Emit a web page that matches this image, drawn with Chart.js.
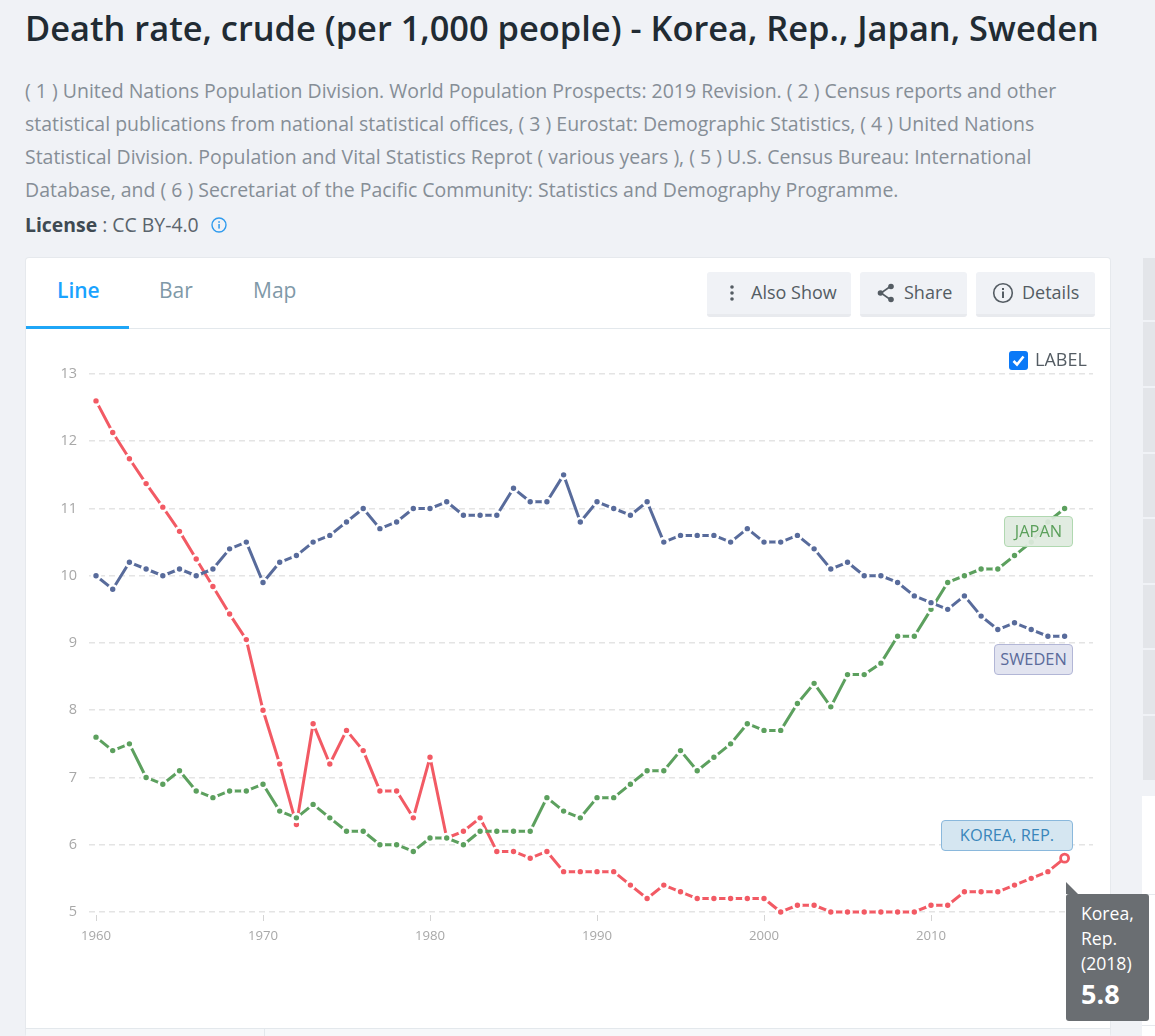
<!DOCTYPE html>
<html>
<head>
<meta charset="utf-8">
<title>Death rate, crude</title>
<script src="https://cdn.jsdelivr.net/npm/chart.js@4"></script>
<style>
  html, body { margin: 0; padding: 0; }
  body { width: 1155px; height: 1036px; overflow: hidden; position: relative; background: #f0f2f6; font-family: "Open Sans", sans-serif; color: #3f4a52; }
  .abs { position: absolute; white-space: nowrap; }
  #title { left: 25px; top: 5px; font-size: 34.4px; line-height: 46px; font-weight: 600; color: #212b33; }
  #desc { left: 25px; top: 73.5px; width: 1060px; white-space: normal; font-size: 19.48px; line-height: 33.2px; color: #868e96; }
  #license { left: 25px; top: 211px; font-size: 19.4px; line-height: 28px; color: #5a646c; }
  #license b { color: #3f4a52; font-weight: 700; }
  #license svg { vertical-align: -1px; margin-left: 7px; }
  #card { left: 26px; top: 258px; width: 1084px; height: 778px; background: #fff; border-radius: 3px; box-shadow: 0 0 0 1px #e6e9ed; }
  #tabline { left: 26px; top: 328px; width: 1084px; height: 1px; background: #e3e8ec; }
  #tabon { left: 26px; top: 326px; width: 103px; height: 3px; background: #1fa6f7; }
  .tab { top: 276px; font-size: 21px; line-height: 28px; color: #7f99a8; font-weight: 500; }
  .btn { top: 272px; height: 42px; background: #f0f2f6; border-bottom: 3px solid #e8eaee; border-radius: 3px; font-size: 18px; line-height: 41px; color: #545c63; box-sizing: content-box; }
  .btn svg { position: absolute; top: 10px; }
  .btn span { position: absolute; top: 0; }
  #chk { left: 1009px; top: 351px; width: 19px; height: 19px; background: #0b79f7; border-radius: 3px; }
  #chklabel { left: 1035px; top: 345px; font-size: 18px; line-height: 28px; color: #545c63; }
  #wrap { left: 26px; top: 329px; width: 1084px; height: 699px; }
  .tag { box-sizing: border-box; height: 31px; border-radius: 4px; border: 1.5px solid; font-size: 16.4px; line-height: 28px; text-align: center; }
  #tagJapan { left: 1004px; top: 516px; width: 69px; background: rgba(222,234,222,.92); border-color: #b0d8b0; color: #5ba05b; }
  #tagSweden { left: 994px; top: 644px; width: 79px; background: #e2e4f0; border-color: #b2b6d6; color: #5b6b9b; }
  #tagKorea { left: 941px; top: 820px; width: 132px; background: #d5e6f1; border-color: #8ab8dc; color: #3a86bb; }
  #footer { left: 26px; top: 1028px; width: 1084px; height: 8px; background: #f6f8fa; border-top: 1px solid #e3e8ec; }
  #footsep { left: 264px; top: 1029px; width: 1px; height: 7px; background: #e3e8ec; }
  #side { left: 1143px; top: 258px; width: 12px; height: 522px; background: #e3e5e9; }
  .sideline { left: 1143px; width: 12px; height: 2px; background: #f0f2f6; }
  #sidecard { left: 1142px; top: 796px; width: 13px; height: 240px; background: #fff; }
  #sidecardline { left: 1142px; top: 894px; width: 13px; height: 1px; background: #e6e9ed; }
  #sidecardline2 { left: 1142px; top: 1025px; width: 13px; height: 1px; background: #e6e9ed; }
  #tip { left: 1066px; top: 894px; width: 83px; height: 127px; background: #6a6e72; border-radius: 3px; color: #fff; box-sizing: border-box; padding: 7px 0 0 15px; font-size: 17.6px; line-height: 25px; white-space: normal; }
  #tip b { display: block; font-size: 27px; line-height: 35px; font-weight: 700; }
  #tiparrow { left: 1066px; top: 882px; width: 0; height: 0; border-top: 12px solid transparent; border-left: 12px solid #6a6e72; }
</style>
</head>
<body>
<div class="abs" id="title">Death rate, crude (per 1,000 people) - Korea, Rep., Japan, Sweden</div>
<div class="abs" id="desc">( 1 ) United Nations Population Division. World Population Prospects: 2019 Revision. ( 2 ) Census reports and other statistical publications from national statistical offices, ( 3 ) Eurostat: Demographic Statistics, ( 4 ) United Nations Statistical Division. Population and Vital Statistics Reprot ( various years ), ( 5 ) U.S. Census Bureau: International Database, and ( 6 ) Secretariat of the Pacific Community: Statistics and Demography Programme.</div>
<div class="abs" id="license"><b>License</b> : CC BY-4.0 <svg width="16" height="16" viewBox="0 0 16 16"><circle cx="8" cy="8" r="7" fill="none" stroke="#2f9bee" stroke-width="1.4"/><rect x="7.3" y="7" width="1.5" height="4.6" fill="#2f9bee"/><rect x="7.3" y="4.2" width="1.5" height="1.6" fill="#2f9bee"/></svg></div>

<div class="abs" id="side"></div>
<div class="abs sideline" style="top:320px"></div>
<div class="abs sideline" style="top:386px"></div>
<div class="abs sideline" style="top:452px"></div>
<div class="abs sideline" style="top:517px"></div>
<div class="abs sideline" style="top:583px"></div>
<div class="abs sideline" style="top:648px"></div>
<div class="abs sideline" style="top:714px"></div>
<div class="abs" id="sidecard"></div>
<div class="abs" id="sidecardline"></div>
<div class="abs" id="sidecardline2"></div>

<div class="abs" id="card"></div>
<div class="abs" id="tabline"></div>
<div class="abs" id="tabon"></div>
<div class="abs tab" style="left:57px;color:#1aa3ff;font-weight:600">Line</div>
<div class="abs tab" style="left:159px">Bar</div>
<div class="abs tab" style="left:253px">Map</div>

<div class="abs btn" style="left:707px;width:144px">
  <svg style="left:21px" width="8" height="22" viewBox="0 0 8 22"><circle cx="4" cy="5" r="1.8" fill="#545c63"/><circle cx="4" cy="11" r="1.8" fill="#545c63"/><circle cx="4" cy="17" r="1.8" fill="#545c63"/></svg>
  <span style="left:44px">Also Show</span>
</div>
<div class="abs btn" style="left:860px;width:107px">
  <svg style="left:16px" width="20" height="22" viewBox="0 0 20 22"><path d="M15 4 L5 11 L15 18" fill="none" stroke="#545c63" stroke-width="1.6"/><circle cx="15" cy="4.500" r="2.800" fill="#545c63"/><circle cx="4.500" cy="11" r="2.800" fill="#545c63"/><circle cx="15" cy="17.500" r="2.800" fill="#545c63"/></svg>
  <span style="left:44px">Share</span>
</div>
<div class="abs btn" style="left:976px;width:119px">
  <svg style="left:16px" width="22" height="22" viewBox="0 0 22 22"><circle cx="11" cy="11" r="9.300" fill="none" stroke="#545c63" stroke-width="1.600"/><rect x="10" y="9.500" width="2" height="6.500" fill="#545c63"/><rect x="10" y="6" width="2" height="2" fill="#545c63"/></svg>
  <span style="left:46px">Details</span>
</div>

<div class="abs" id="wrap"><canvas id="chart"></canvas></div>

<div class="abs" id="chk"><svg width="19" height="19" viewBox="0 0 19 19"><path d="M4.500 10 L8 13.500 L14.500 5.500" fill="none" stroke="#fff" stroke-width="2.600"/></svg></div>
<div class="abs" id="chklabel">LABEL</div>

<div class="abs tag" id="tagJapan">JAPAN</div>
<div class="abs tag" id="tagSweden">SWEDEN</div>
<div class="abs tag" id="tagKorea">KOREA, REP.</div>

<div class="abs" id="tiparrow"></div>
<div class="abs" id="tip">Korea, Rep. (2018)<b>5.8</b></div>

<div class="abs" id="footer"></div>
<div class="abs" id="footsep"></div>

<script>
const years = []
for (let y = 1960; y <= 2018; y++) years.push(y)

const xTicks = [1960, 1970, 1980, 1990, 2000, 2010]
const yTicks = [5, 6, 7, 8, 9, 10, 11, 12, 13]

const korea = [12.6, 12.13, 11.74, 11.37, 11.02, 10.66, 10.25, 9.84, 9.43, 9.05,
  8.0, 7.2, 6.3, 7.8, 7.2, 7.7, 7.4, 6.8, 6.8, 6.4,
  7.3, 6.1, 6.2, 6.4, 5.9, 5.9, 5.8, 5.9, 5.6, 5.6,
  5.6, 5.6, 5.4, 5.2, 5.4, 5.3, 5.2, 5.2, 5.2, 5.2,
  5.2, 5.0, 5.1, 5.1, 5.0, 5.0, 5.0, 5.0, 5.0, 5.0,
  5.1, 5.1, 5.3, 5.3, 5.3, 5.4, 5.5, 5.6, 5.8]

const japan = [7.6, 7.4, 7.5, 7.0, 6.9, 7.1, 6.8, 6.7, 6.8, 6.8,
  6.9, 6.5, 6.4, 6.6, 6.4, 6.2, 6.2, 6.0, 6.0, 5.9,
  6.1, 6.1, 6.0, 6.2, 6.2, 6.2, 6.2, 6.7, 6.5, 6.4,
  6.7, 6.7, 6.9, 7.1, 7.1, 7.4, 7.1, 7.3, 7.5, 7.8,
  7.7, 7.7, 8.1, 8.4, 8.05, 8.53, 8.53, 8.7, 9.1, 9.1,
  9.5, 9.9, 10.0, 10.1, 10.1, 10.3, 10.5, 10.8, 11.0]

const sweden = [10.0, 9.8, 10.2, 10.1, 10.0, 10.1, 10.0, 10.1, 10.4, 10.5,
  9.9, 10.2, 10.3, 10.5, 10.6, 10.8, 11.0, 10.7, 10.8, 11.0,
  11.0, 11.1, 10.9, 10.9, 10.9, 11.3, 11.1, 11.1, 11.5, 10.8,
  11.1, 11.0, 10.9, 11.1, 10.5, 10.6, 10.6, 10.6, 10.5, 10.7,
  10.5, 10.5, 10.6, 10.4, 10.1, 10.2, 10.0, 10.0, 9.9, 9.7,
  9.6, 9.5, 9.7, 9.4, 9.2, 9.3, 9.2, 9.1, 9.1]

const makeSet = (label, values, color) => ({
  label: label,
  data: values.map((v, i) => ({ x: years[i], y: v })),
  borderColor: color,
  backgroundColor: color,
  borderWidth: 3,
  borderJoinStyle: "round",
  pointRadius: 4,
  pointBorderWidth: 2.6,
  pointBorderColor: "#fff",
  pointBackgroundColor: color,
  tension: 0,
  clip: false
})

const koreaSet = makeSet("Korea, Rep.", korea, "#f25a64")
// hovered end point: hollow ring
const isLast = ctx => ctx.dataIndex === korea.length - 1
koreaSet.pointBorderWidth = ctx => isLast(ctx) ? 2.8 : 2.6
koreaSet.pointBorderColor = ctx => isLast(ctx) ? "#f25a64" : "#fff"
koreaSet.pointBackgroundColor = ctx => isLast(ctx) ? "#fff" : "#f25a64"

new Chart(document.getElementById("chart"), {
  type: "line",
  data: {
    datasets: [
      makeSet("Sweden", sweden, "#586b9b"),
      makeSet("Japan", japan, "#5ca05e"),
      koreaSet
    ]
  },
  options: {
    responsive: true,
    maintainAspectRatio: false,
    animation: false,
    layout: { padding: { top: 45, right: 17, left: 0, bottom: 0 } },
    plugins: { legend: { display: false }, tooltip: { enabled: false } },
    scales: {
      x: {
        type: "linear",
        min: 1959.58,
        max: 2019.7,
        afterBuildTicks: axis => { axis.ticks = xTicks.map(v => ({ value: v })) },
        afterFit: axis => { axis.height = 113 },
        grid: { drawOnChartArea: false, drawTicks: true, tickLength: 6, tickColor: "#d4d4d4", tickWidth: 1 },
        border: { display: false },
        ticks: { autoSkip: false, maxRotation: 0, padding: 7, color: "#a8a8a8", font: { family: "Open Sans", size: 13.2 }, callback: v => String(v) }
      },
      y: {
        min: 4.955,
        max: 13,
        afterBuildTicks: axis => { axis.ticks = yTicks.map(v => ({ value: v })) },
        afterFit: axis => { axis.width = 63 },
        grid: { drawTicks: false, color: "#e4e4e4", lineWidth: 1.5 },
        border: { display: false, dash: [6, 4] },
        ticks: { padding: 12, color: "#a8a8a8", font: { family: "Open Sans", size: 14.5 } }
      }
    }
  }
})
</script>
</body>
</html>
